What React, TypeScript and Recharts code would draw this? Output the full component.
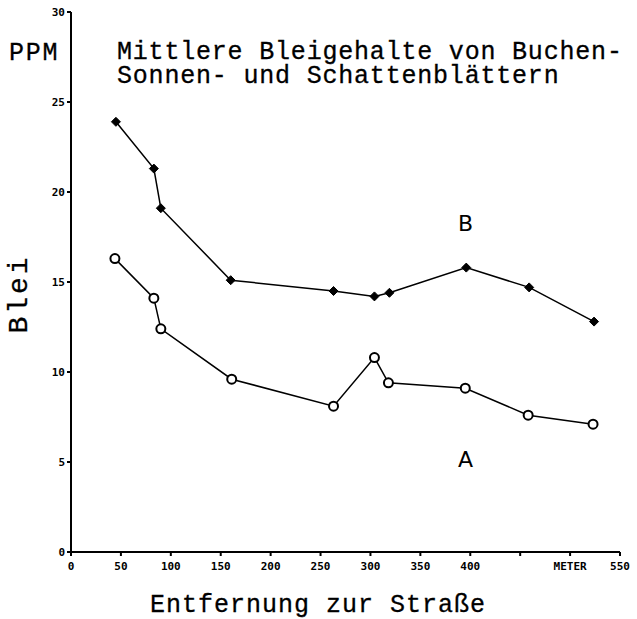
import React from "react";
import { LineChart, Line, XAxis, YAxis } from "recharts";

// distance from road (m)
const distA = [44, 83, 90, 161, 263, 304, 318, 395, 458, 523];
const distB = [45, 83, 90, 160, 263, 304, 319, 396, 459, 524];
// lead content (ppm)
const leadA = [16.3, 14.1, 12.4, 9.6, 8.1, 10.8, 9.4, 9.1, 7.6, 7.1];
const leadB = [23.9, 21.3, 19.1, 15.1, 14.5, 14.2, 14.4, 15.8, 14.7, 12.8];

const xTicks = [0, 50, 100, 150, 200, 250, 300, 350, 400, 450, 500, 550];
const xTickLabels = ["0", "50", "100", "150", "200", "250", "300", "350", "400", "", "METER", "550"];
const yTicks = [0, 5, 10, 15, 20, 25, 30];

const seriesA = distA.map((d, i) => ({ dist: d, lead: leadA[i] }));
const seriesB = distB.map((d, i) => ({ dist: d, lead: leadB[i] }));

const mono = "'Liberation Mono', 'DejaVu Sans Mono', monospace";
const tickFont = { fill: "#000", fontSize: 11, fontWeight: 700, fontFamily: "'DejaVu Sans Mono', monospace" };

function Diamond(props: any) {
  const { cx, cy, index } = props;
  if (cx == null || cy == null) return null;
  const s = 4.5;
  return (
    <path
      key={`b-${index}`}
      d={`M${cx},${cy - s} L${cx + s},${cy} L${cx},${cy + s} L${cx - s},${cy} Z`}
      fill="#000"
      stroke="#000"
      strokeWidth={1}
    />
  );
}

function Ring(props: any) {
  const { cx, cy, index } = props;
  if (cx == null || cy == null) return null;
  return <circle key={`a-${index}`} cx={cx} cy={cy} r={4.5} fill="#fff" stroke="#000" strokeWidth={2} />;
}

const txt = (extra: React.CSSProperties): React.CSSProperties => ({
  position: "absolute",
  whiteSpace: "pre",
  color: "#000",
  fontFamily: mono,
  lineHeight: 1,
  WebkitTextStroke: "0.3px #000",
  ...extra,
});

export default function App() {
  return (
    <div style={{ position: "relative", width: 637, height: 619, background: "#fff", overflow: "hidden" }}>
      <style>{"body{margin:0}"}</style>
      <LineChart width={637} height={619} margin={{ top: 12, right: 17, left: 51, bottom: 37 }}>
        <XAxis
          type="number"
          dataKey="dist"
          domain={[0, 550]}
          ticks={xTicks}
          tickFormatter={(v: number) => xTickLabels[xTicks.indexOf(v)] ?? ""}
          interval={0}
          height={30}
          stroke="#000"
          strokeWidth={2}
          tickSize={4}
          tickMargin={6}
          tick={tickFont}
          allowDuplicatedCategory={false}
        />
        <YAxis
          type="number"
          dataKey="lead"
          domain={[0, 30]}
          ticks={yTicks}
          interval={0}
          width={20}
          stroke="#000"
          strokeWidth={2}
          tickSize={4}
          tickMargin={2}
          tick={tickFont}
        />
        <Line
          data={seriesB}
          dataKey="lead"
          stroke="#000"
          strokeWidth={1.5}
          dot={Diamond}
          activeDot={false}
          isAnimationActive={false}
        />
        <Line
          data={seriesA}
          dataKey="lead"
          stroke="#000"
          strokeWidth={1.5}
          dot={Ring}
          activeDot={false}
          isAnimationActive={false}
        />
      </LineChart>

      <div style={txt({ left: 9, top: 41, fontSize: 25, letterSpacing: 1.7 })}>PPM</div>
      <div style={txt({ left: 117, top: 41, fontSize: 25, letterSpacing: 0.8, lineHeight: "24px" })}>
        {"Mittlere Bleigehalte von Buchen-\nSonnen- und Schattenblättern"}
      </div>
      <div
        style={txt({
          left: 20,
          top: 294,
          fontSize: 28,
          letterSpacing: 3,
          transform: "translate(-50%, -50%) rotate(-90deg)",
        })}
      >
        Blei
      </div>
      <div style={txt({ left: 150, top: 593, fontSize: 25, letterSpacing: 1 })}>Entfernung zur Straße</div>
      <div style={txt({ left: 458, top: 213, fontSize: 22, fontFamily: "'DejaVu Sans', sans-serif", WebkitTextStroke: "0" })}>B</div>
      <div style={txt({ left: 458, top: 449, fontSize: 22, fontFamily: "'DejaVu Sans', sans-serif", WebkitTextStroke: "0" })}>A</div>
    </div>
  );
}
